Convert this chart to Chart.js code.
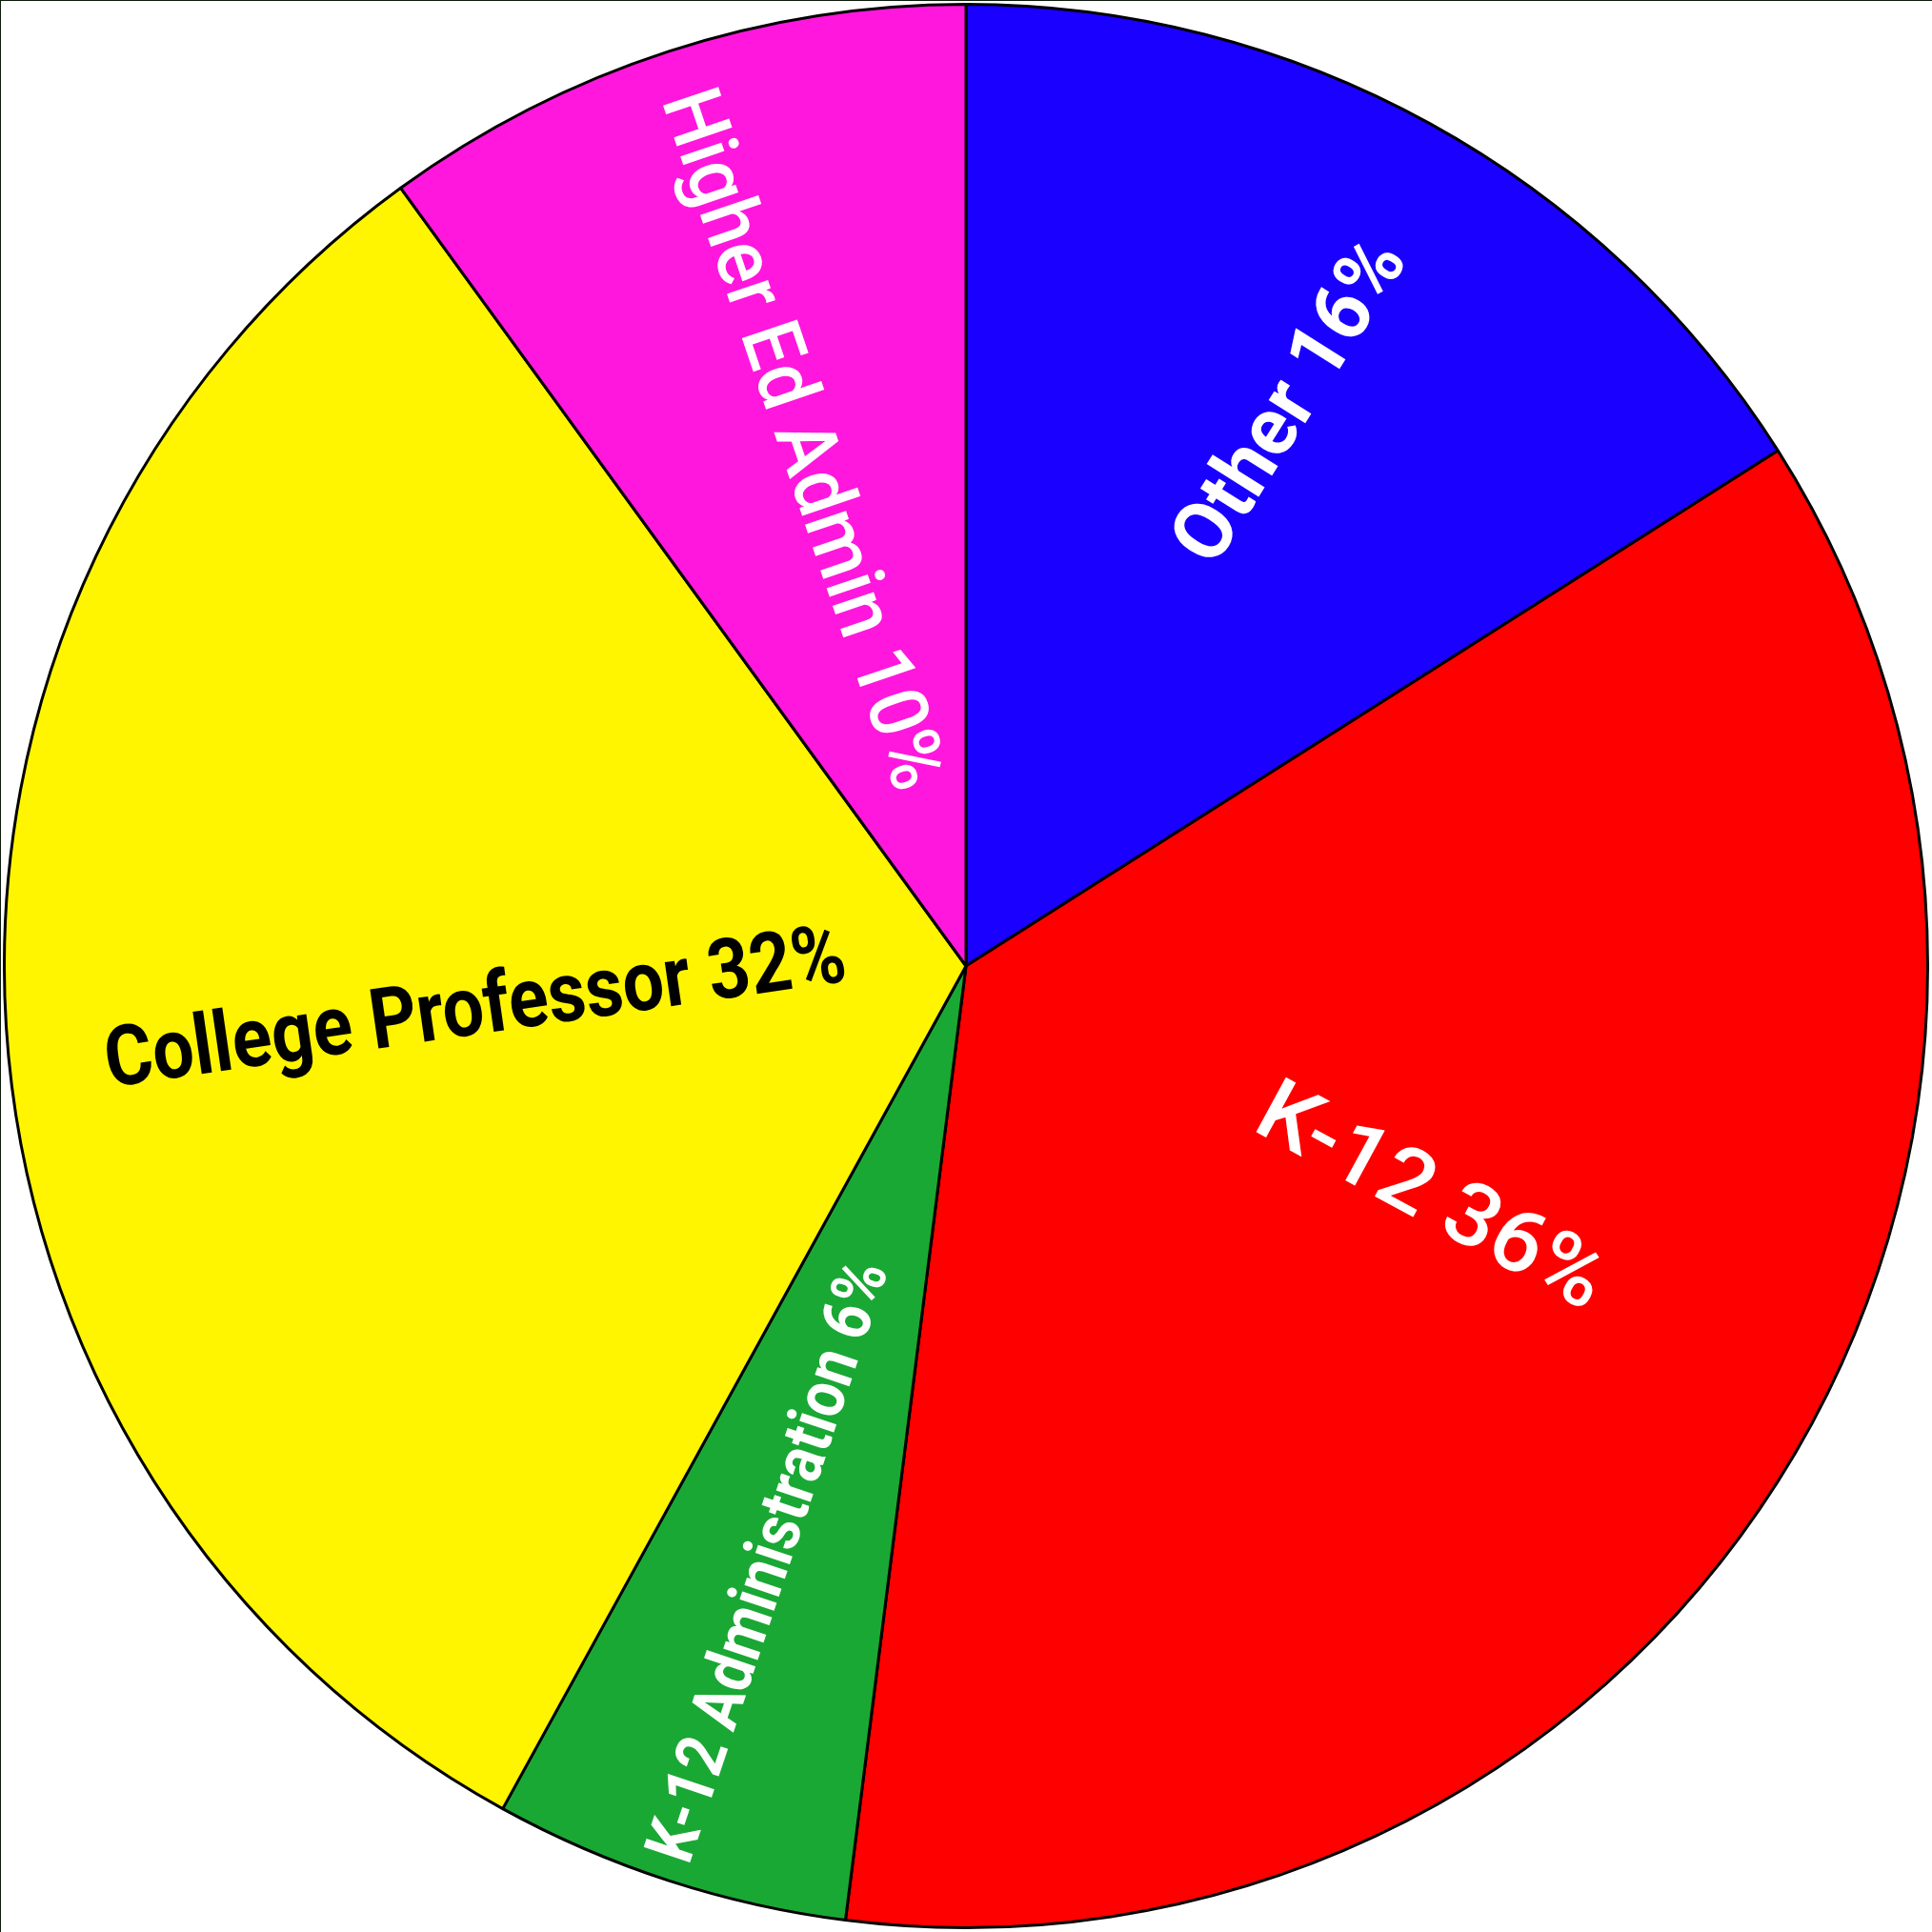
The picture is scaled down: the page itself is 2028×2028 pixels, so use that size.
<!DOCTYPE html>
<html>
<head>
<meta charset="utf-8">
<script src="https://cdn.jsdelivr.net/npm/chart.js@4.4.1/dist/chart.umd.min.js"></script>
<style>
  html, body { margin: 0; padding: 0; background: #ffffff; }
  #wrap { position: relative; width: 2028px; height: 2028px; }
  canvas { display: block; }
</style>
</head>
<body>
<div id="wrap"><canvas id="c" width="2028" height="2028"></canvas></div>
<script>
// ---- data ----
const categories = ['Other', 'K-12', 'K-12 Administration', 'College Professor', 'Higher Ed Admin'];
const percentages = [16, 36, 6, 32, 10];
const sliceColors = ['#1900FF', '#FF0000', '#1AA834', '#FFF500', '#FF17DD'];

// ---- label styling (not data) ----
const labelStyle = {
  color:   ['#ffffff', '#ffffff', '#ffffff', '#000000', '#ffffff'],
  weight:  ['bold', '500', 'bold', 'bold', '500'],
  size:    [86, 92, 72, 88, 86],
  length:  [384, 402, 660, 785, 770],   // rendered text length (condensed look)
  radius:  [0.677, 0.54, 0.652, 0.512, 0.573],
  angleOffsetDeg: [1.4, -5.5, 0, -1.9, 0.3],
  rotOffsetDeg:   [2, 1.6, 0.5, -2.7, -1]
};

const sliceLabels = {
  id: 'sliceLabels',
  afterDatasetsDraw(chart) {
    const ctx = chart.ctx;
    const meta = chart.getDatasetMeta(0);
    meta.data.forEach((arc, i) => {
      const p = arc.getProps(['x', 'y', 'startAngle', 'endAngle', 'outerRadius'], true);
      const mid = (p.startAngle + p.endAngle) / 2 + labelStyle.angleOffsetDeg[i] * Math.PI / 180;
      const r = p.outerRadius * labelStyle.radius[i];
      const x = p.x + Math.cos(mid) * r;
      const y = p.y + Math.sin(mid) * r;
      let rot = mid;
      if (Math.cos(mid) < 0) rot += Math.PI;
      rot += labelStyle.rotOffsetDeg[i] * Math.PI / 180;
      const text = `${categories[i]} ${percentages[i]}%`;
      ctx.save();
      ctx.translate(x, y);
      ctx.rotate(rot);
      ctx.font = `${labelStyle.weight[i]} ${labelStyle.size[i]}px Roboto, 'DejaVu Sans', sans-serif`;
      const w = ctx.measureText(text).width;
      const sx = labelStyle.length[i] / w;
      ctx.scale(sx, 1);
      ctx.fillStyle = labelStyle.color[i];
      ctx.textAlign = 'center';
      ctx.textBaseline = 'middle';
      ctx.fillText(text, 0, 0);
      ctx.restore();
    });
    // thin frame on top and left edges
    ctx.save();
    ctx.fillStyle = '#0b1a0b';
    ctx.fillRect(0, 0, chart.width, 1);
    ctx.fillRect(0, 0, 1, chart.height);
    ctx.restore();
  }
};

new Chart(document.getElementById('c'), {
  type: 'pie',
  data: {
    labels: categories,
    datasets: [{
      data: percentages,
      backgroundColor: sliceColors,
      borderColor: '#000000',
      borderWidth: 3
    }]
  },
  options: {
    responsive: false,
    animation: false,
    rotation: 0,
    layout: { padding: 3 },
    plugins: {
      legend: { display: false },
      tooltip: { enabled: false },
      title: { display: false }
    }
  },
  plugins: [sliceLabels]
});
</script>
</body>
</html>
